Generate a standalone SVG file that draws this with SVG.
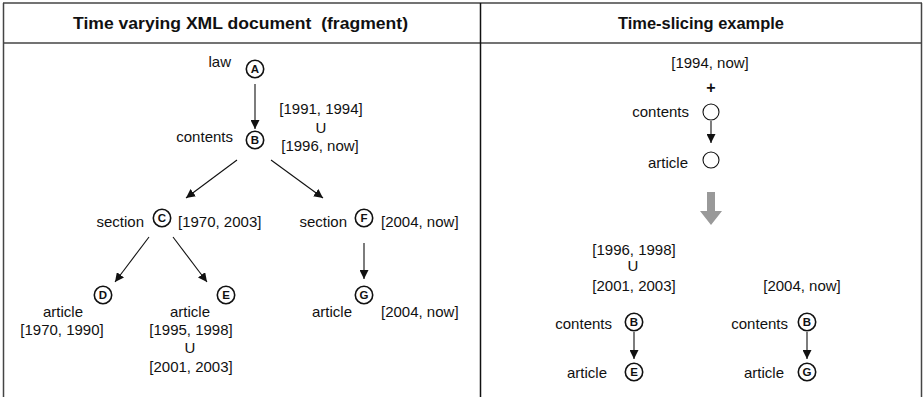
<svg xmlns="http://www.w3.org/2000/svg" width="923" height="397" viewBox="0 0 923 397">
<style>
text{font-family:"Liberation Sans",Arial,sans-serif;font-size:15px;fill:#111}
.h{font-weight:bold;font-size:17px;text-anchor:middle}
.m{text-anchor:middle}
.e{text-anchor:end}
.lc{fill:#fff;stroke:#111;stroke-width:1.6}
.ec{fill:#fff;stroke:#111;stroke-width:1.1}
.lt{font-weight:bold;font-size:11.5px;text-anchor:middle}
.edge{stroke:#111;stroke-width:1.1;fill:none;marker-end:url(#ah)}
.grid{stroke:#444;stroke-width:1.5;fill:none}
</style>
<defs>
<marker id="ah" viewBox="0 0 10 10" refX="10" refY="5" markerWidth="9" markerHeight="9" markerUnits="userSpaceOnUse" orient="auto">
<path d="M0,0 L10,5 L0,10 Z" fill="#111"/>
</marker>
</defs>
<rect width="923" height="397" fill="#fff"/>
<g id="table">
<line class="grid" x1="3" y1="3" x2="922" y2="3"/>
<line class="grid" x1="3" y1="43" x2="922" y2="43"/>
<line class="grid" x1="3.5" y1="3" x2="3.5" y2="397"/>
<line class="grid" x1="921.5" y1="3" x2="921.5" y2="397"/>
<line x1="480.5" y1="3" x2="480.5" y2="397" stroke="#111" stroke-width="1.5"/>
<text class="h" x="240.5" y="29" textLength="335" lengthAdjust="spacingAndGlyphs" xml:space="preserve">Time varying XML document  (fragment)</text>
<text class="h" x="701" y="29" textLength="166" lengthAdjust="spacingAndGlyphs">Time-slicing example</text>
</g>
<g id="connectors">
<line class="edge" x1="255" y1="84" x2="255" y2="129"/>
<line class="edge" x1="237" y1="160" x2="186" y2="198"/>
<line class="edge" x1="271" y1="160" x2="323" y2="198"/>
<line class="edge" x1="149" y1="237" x2="115" y2="282"/>
<line class="edge" x1="173" y1="237" x2="207" y2="282"/>
<line class="edge" x1="364" y1="243" x2="364" y2="279"/>
<line class="edge" x1="711" y1="121" x2="711" y2="143"/>
<line class="edge" x1="634" y1="332" x2="634" y2="359"/>
<line class="edge" x1="807" y1="332" x2="807" y2="359"/>
<path d="M707,192 L715,192 L715,211 L722,211 L711,225 L700,211 L707,211 Z" fill="#999"/>
</g>
<g id="nodeA">
<text class="e" x="231" y="67">law</text>
<circle class="lc" cx="255" cy="69" r="8.7"/>
<text class="lt" x="255" y="73">A</text>
</g>
<g id="nodeB">
<text class="e" x="233" y="142">contents</text>
<circle class="lc" cx="255" cy="140" r="8.7"/>
<text class="lt" x="255" y="144">B</text>
<text class="m" x="321" y="114">[1991, 1994]</text>
<text class="m" x="321" y="133">U</text>
<text class="m" x="320" y="151">[1996, now]</text>
</g>
<g id="nodeC">
<text class="e" x="144" y="227">section</text>
<circle class="lc" cx="162" cy="218" r="8.7"/>
<text class="lt" x="162" y="222">C</text>
<text x="178" y="227">[1970, 2003]</text>
</g>
<g id="nodeF">
<text class="e" x="347" y="227">section</text>
<circle class="lc" cx="364" cy="218" r="8.7"/>
<text class="lt" x="364" y="222">F</text>
<text x="381" y="227">[2004, now]</text>
</g>
<g id="nodeD">
<circle class="lc" cx="103" cy="295" r="8.7"/>
<text class="lt" x="103" y="299">D</text>
<text class="m" x="63" y="317">article</text>
<text class="m" x="62" y="335">[1970, 1990]</text>
</g>
<g id="nodeE">
<circle class="lc" cx="226" cy="295" r="8.7"/>
<text class="lt" x="226" y="299">E</text>
<text class="m" x="190" y="317">article</text>
<text class="m" x="191" y="335">[1995, 1998]</text>
<text class="m" x="190" y="353">U</text>
<text class="m" x="191" y="372">[2001, 2003]</text>
</g>
<g id="nodeG">
<circle class="lc" cx="364" cy="295" r="8.7"/>
<text class="lt" x="364" y="299">G</text>
<text class="e" x="352" y="317">article</text>
<text x="381" y="317">[2004, now]</text>
</g>
<g id="pattern">
<text class="m" x="710" y="68">[1994, now]</text>
<text class="m" x="711" y="93" style="font-weight:bold;font-size:16px">+</text>
<text class="e" x="689" y="117">contents</text>
<circle class="ec" cx="711" cy="112" r="8"/>
<text class="e" x="688" y="168">article</text>
<circle class="ec" cx="711" cy="160" r="8"/>
</g>
<g id="result1">
<text class="m" x="634" y="255">[1996, 1998]</text>
<text class="m" x="633" y="271">U</text>
<text class="m" x="634" y="291">[2001, 2003]</text>
<text class="e" x="612" y="329">contents</text>
<circle class="lc" cx="634" cy="322" r="8.7"/>
<text class="lt" x="634" y="326">B</text>
<text class="e" x="607" y="378">article</text>
<circle class="lc" cx="634" cy="372" r="8.7"/>
<text class="lt" x="634" y="376">E</text>
</g>
<g id="result2">
<text class="m" x="802" y="291">[2004, now]</text>
<text class="e" x="788" y="329">contents</text>
<circle class="lc" cx="807" cy="322" r="8.7"/>
<text class="lt" x="807" y="326">B</text>
<text class="e" x="784" y="378">article</text>
<circle class="lc" cx="807" cy="372" r="8.7"/>
<text class="lt" x="807" y="376">G</text>
</g>
</svg>
